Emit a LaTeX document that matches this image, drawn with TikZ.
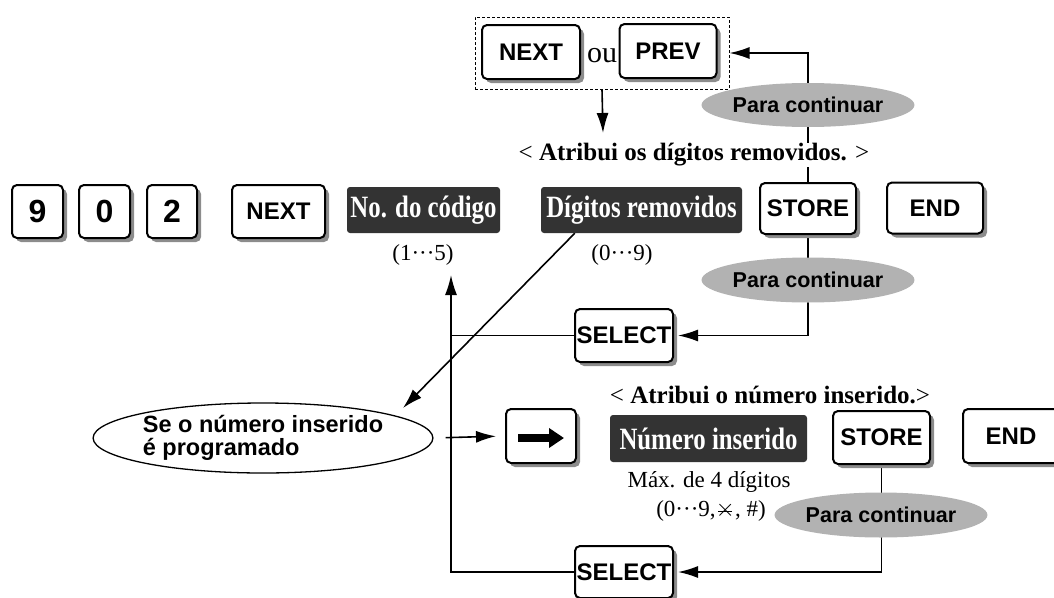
\documentclass[tikz,border=0pt]{standalone}
\usepackage{fontspec}
\setmainfont{Liberation Serif}
\setsansfont{Liberation Sans}
\newfontfamily\narrowserif[FakeStretch=0.8]{Liberation Serif}
\usetikzlibrary{arrows.meta, shapes.geometric, shadows, backgrounds}
\newcommand{\asterkey}{\ooalign{$\times$\cr\hidewidth\rule[.22em]{.6em}{.04em}\hidewidth\cr}}

\begin{document}
\begin{tikzpicture}[x=1pt, y=-1pt,
    keybox/.style={draw, line width=2pt, rounded corners=5pt, fill=white, inner sep=0pt,
      minimum height=53pt, font=\sffamily\bfseries\fontsize{24}{24}\selectfont,
      drop shadow={shadow xshift=4pt, shadow yshift=-4pt, fill=black!45, opacity=1}},
    digitbox/.style={keybox, font=\sffamily\bfseries\fontsize{32}{32}\selectfont},
    darkbox/.style={fill=black!80, rounded corners=3pt, text=white, inner sep=0pt,
      minimum height=46pt, font=\narrowserif\bfseries\fontsize{31}{31}\selectfont},
    contbubble/.style={ellipse, fill=black!30, inner sep=0pt, minimum width=174pt,
      minimum height=44pt, font=\sffamily\bfseries\fontsize{21.5}{21.5}\selectfont},
    labeltext/.style={font=\fontsize{25}{25}\selectfont, inner sep=1pt},
    smalltext/.style={font=\fontsize{23}{23}\selectfont, inner sep=0pt},
    flowarrow/.style={line width=1.6pt, -{Latex[length=20pt,width=12pt]}},
    flowline/.style={line width=1.6pt}]
\useasboundingbox (0,0) rectangle (1054,597);

% NEXT / PREV choice at the top
\node[draw, dashed, line width=1pt, dash pattern=on 3pt off 2pt, minimum width=254pt, minimum height=72pt] (choice) at (602,53) {};
\node[keybox, minimum width=98pt, minimum height=54pt] (nextup) at (531,52) {NEXT};
\node[font=\fontsize{30}{30}\selectfont, inner sep=0pt, anchor=base] (ou) at (602,62) {ou};
\node[keybox, minimum width=97pt, minimum height=54pt] (prev) at (668,51) {PREV};
\node[contbubble] (cont1) at (808,105) {Para continuar};
\node[labeltext, fill=white] (assign1) at (694,155) {< \textbf{Atribui os dígitos removidos.} >};
\coordinate (choicedown) at (603,133);

% first row
\node[digitbox, minimum width=51pt] (nine) at (37.5,211.5) {9};
\node[digitbox, minimum width=51pt] (zero) at (104.5,211.5) {0};
\node[digitbox, minimum width=50pt] (two) at (172,211.5) {2};
\node[keybox, minimum width=93pt] (next) at (278.5,211.5) {NEXT};
\node[darkbox, minimum width=153pt] (codigo) at (423.5,210) {No. do código};
\node[darkbox, minimum width=201pt] (removidos) at (641.5,210) {Dígitos removidos};
\node[keybox, minimum width=96pt, minimum height=51pt] (store) at (808,208.5) {STORE};
\node[keybox, minimum width=96pt, minimum height=51pt] (endkey) at (935,208) {END};
\node[smalltext] (range1) at (423,255) {(1···5)};
\node[smalltext] (range2) at (622,255) {(0···9)};
\node[contbubble, minimum width=176pt, minimum height=45pt] (cont2) at (808,280) {Para continuar};
\node[keybox, minimum width=98pt] (select1) at (624,335.5) {SELECT};
\coordinate (uptip) at (451,275);

% second row
\node[ellipse, draw, fill=white, line width=1.3pt, minimum width=323pt, minimum height=70pt,
  inner sep=0pt, align=left, font=\sffamily\bfseries\fontsize{23.5}{23}\selectfont]
  (ifset) at (263,438) {Se o número inserido\\é programado};
\node[keybox, minimum width=70pt, minimum height=54pt] (arrowkey) at (541,436) {};
\node[labeltext] (assign2) at (770,395) {< \textbf{Atribui o número inserido.}>};
\node[darkbox, minimum width=197pt, minimum height=47pt] (numero) at (708.5,438.5) {Número inserido};
\node[smalltext] (maxlbl) at (709,482) {Máx. de 4 dígitos};
\node[smalltext] (range3) at (711,511) {(0···9,\asterkey, \#)};
\node[keybox, minimum width=97pt] (store2) at (881.5,437.5) {STORE};
\node[keybox, minimum width=96pt, minimum height=54pt] (end2) at (1011,436) {END};
\node[contbubble, minimum width=175pt, minimum height=45pt] (cont3) at (881,515) {Para continuar};
\node[keybox, minimum width=98pt, minimum height=52pt] (select2) at (624,572) {SELECT};

% arrow on the cursor key
\draw[line width=8pt, -{Triangle[length=15pt,width=19pt]}]
  ([xshift=-23pt,yshift=-2pt]arrowkey.center) -- ([xshift=23pt,yshift=-2pt]arrowkey.center);

\begin{scope}[on background layer]
  \draw[flowarrow] (choice.south) -- (choicedown);
  \draw[flowarrow] (store.north) |- (choice.east);
  \draw[flowarrow, shorten >=4pt] (store.south) |- (select1.east);
  \draw[flowline] (select1.west) -- (select1.west -| uptip);
  \draw[flowarrow] (select2.west) -| (uptip);
  \draw[flowarrow] ([xshift=34pt]removidos.south west) -- ([xshift=140pt,yshift=30pt]ifset.center);
  \draw[flowarrow, shorten <=12pt, shorten >=9pt] (ifset.east) -- (arrowkey.west);
  \draw[flowarrow, shorten >=4pt] (store2.south) |- (select2.east);
\end{scope}
\end{tikzpicture}
\end{document}
